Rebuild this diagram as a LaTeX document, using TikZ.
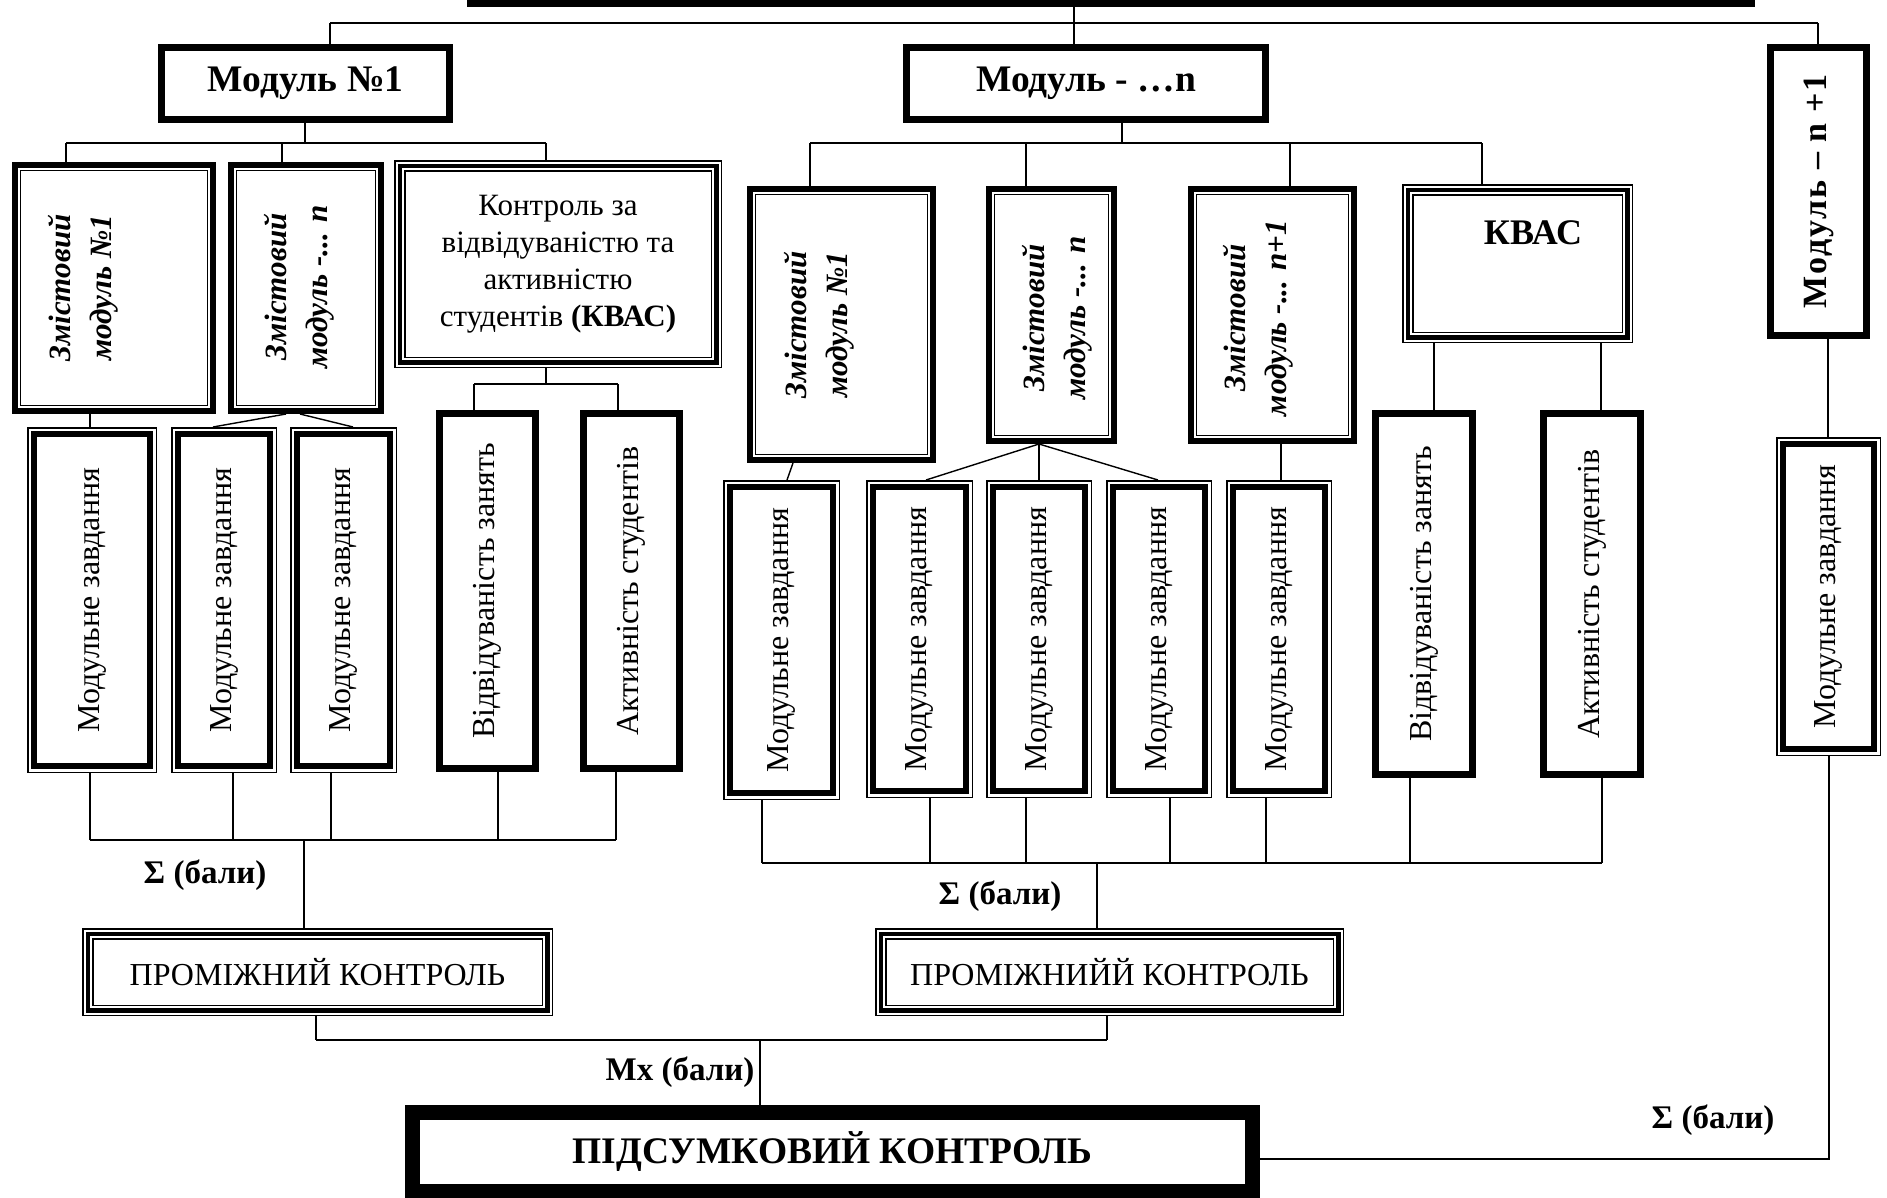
\documentclass[tikz,border=0pt]{standalone}
\usepackage{fontspec}
\setmainfont{Liberation Serif}
\newfontfamily\spacedfont[LetterSpace=6]{Liberation Serif}
\usetikzlibrary{calc}
% box node from its outer corners (image pixel coordinates)
\newcommand\bx[7]{\node[boxbase,#1,minimum width={#5-#3},minimum height={#6-#4}] (#2) at ({(#3+#5)/2},{(#4+#6)/2}) {#7};}
% one frame line, inset from the node border
\newcommand\fr[3]{\draw[line width=#3pt] ($(#1.south west)+(#2pt,#2pt)$) rectangle ($(#1.north east)-(#2pt,#2pt)$);}
\newcommand\fplain[1]{\fr{#1}{3.5}{7}}
\newcommand\fthickthin[1]{\fr{#1}{3}{6}\fr{#1}{8.7}{1.4}}
\newcommand\fthinthick[1]{\fr{#1}{0.75}{1.5}\fr{#1}{7}{6}}
\newcommand\ftriple[1]{\fr{#1}{0.75}{1.5}\fr{#1}{5.75}{4.5}\fr{#1}{10.75}{1.5}}
\newcommand\fheavy[1]{\fr{#1}{7.5}{15}}
\begin{document}
\begin{tikzpicture}[x=1pt,y=-1pt,
  boxbase/.style={rectangle,inner sep=0pt,outer sep=0pt},
  conn/.style={line width=1.4pt},
  bus/.style={line width=2pt},
  rm/.style={font=\fontsize{32}{36}\selectfont},
  bf/.style={font=\fontsize{37.5}{42}\selectfont\bfseries},
  lbl/.style={font=\fontsize{33}{38}\selectfont\bfseries},
  zm/.style={font=\fontsize{31}{41}\selectfont\bfseries\itshape,align=center,rotate=90,inner sep=0pt},
]
\useasboundingbox (0,0) rectangle (1887,1197);
\clip (0,0) rectangle (1887,1197);
\fill[white] (0,0) rectangle (1887,1197);

% ---------- boxes ----------
\bx{fill=black}{top}{467}{-13}{1755}{7}{}
\bx{bf}{m1}{158}{44}{453}{123}{Модуль №1}
\bx{bf}{mn}{903}{44}{1269}{123}{Модуль - …n}
\bx{}{mp1}{1767}{44}{1870}{339}{\rotatebox{90}{\fontsize{34}{38}\selectfont\spacedfont\bfseries Модуль – n +1}}

\bx{}{z1}{12}{162}{216}{414}{}
\bx{}{z2}{228}{162}{384}{414}{}
\bx{font=\fontsize{31}{37}\selectfont,align=center}{kv1}{394}{160}{722}{368}{Контроль за\\відвідуваністю та\\активністю\\студентів \textbf{(КВАС)}}

\bx{rm}{mz1}{27}{427}{157}{773}{\rotatebox{90}{Модульне завдання}}
\bx{rm}{mz2}{171}{427}{277}{773}{\rotatebox{90}{Модульне завдання}}
\bx{rm}{mz3}{290}{427}{397}{773}{\rotatebox{90}{Модульне завдання}}
\bx{rm}{vd1}{436}{410}{539}{772}{\rotatebox{90}{Відвідуваність занять}}
\bx{rm}{ak1}{580}{410}{683}{772}{\rotatebox{90}{Активність студентів}}

\bx{}{zn1}{747}{186}{936}{463}{}
\bx{}{zn2}{986}{186}{1117}{444}{}
\bx{}{zn3}{1188}{186}{1357}{444}{}
\bx{}{kvn}{1402}{184}{1633}{343}{}

\bx{rm}{mzn1}{723}{480}{840}{800}{\rotatebox{90}{Модульне завдання}}
\bx{rm}{mzn2}{866}{480}{973}{798}{\rotatebox{90}{Модульне завдання}}
\bx{rm}{mzn3}{986}{480}{1092}{798}{\rotatebox{90}{Модульне завдання}}
\bx{rm}{mzn4}{1106}{480}{1212}{798}{\rotatebox{90}{Модульне завдання}}
\bx{rm}{mzn5}{1226}{480}{1332}{798}{\rotatebox{90}{Модульне завдання}}
\bx{rm}{vdn}{1372}{410}{1476}{778}{\rotatebox{90}{Відвідуваність занять}}
\bx{rm}{akn}{1540}{410}{1644}{778}{\rotatebox{90}{Активність студентів}}
\bx{rm}{mzp}{1776}{437}{1881}{756}{\rotatebox{90}{Модульне завдання}}

\bx{rm}{pk1}{82}{928}{553}{1016}{ПРОМІЖНИЙ КОНТРОЛЬ}
\bx{rm}{pk2}{875}{928}{1344}{1016}{ПРОМІЖНИЙЙ КОНТРОЛЬ}
\bx{bf}{fin}{405}{1105}{1260}{1199}{ПІДСУМКОВИЙ КОНТРОЛЬ}

% ---------- frames ----------
\fplain{m1}\fplain{mn}\fplain{mp1}
\fthickthin{z1}\fthickthin{z2}\fthickthin{zn1}\fthickthin{zn2}\fthickthin{zn3}
\ftriple{kv1}\ftriple{kvn}\ftriple{pk1}\ftriple{pk2}
\fthinthick{mz1}\fthinthick{mz2}\fthinthick{mz3}
\fthinthick{mzn1}\fthinthick{mzn2}\fthinthick{mzn3}\fthinthick{mzn4}\fthinthick{mzn5}\fthinthick{mzp}
\fplain{vd1}\fplain{ak1}\fplain{vdn}\fplain{akn}
\fheavy{fin}

% ---------- texts placed inside boxes ----------
\node[zm] (z1t) at (83,288) {Змістовий\\модуль №1};
\node[zm] (z2t) at (299,287) {Змістовий\\модуль -... n};
\node[zm] (zn1t) at (819,325) {Змістовий\\модуль №1};
\node[zm] (zn2t) at (1057,318) {Змістовий\\модуль -... n};
\node[zm] (zn3t) at (1258,318) {Змістовий\\модуль -... n+1};
\node[font=\fontsize{36}{40}\selectfont\bfseries] (kvnt) at (1533,233) {КВАС};

% ---------- connectors ----------
% top level
\coordinate (b1l) at (330,23); \coordinate (b1m) at (1074,23); \coordinate (b1r) at (1818,23);
\draw[bus] (b1l) -- (b1r);
\draw[conn] (top.south -| b1m) -- (mn.north -| b1m);
\draw[conn] (b1l) -- (m1.north -| b1l);
\draw[conn] (b1r) -- (mp1.north -| b1r);

% module 1
\coordinate (b2a) at (66,143); \coordinate (b2m) at (305,143);
\coordinate (b2b) at (282,143); \coordinate (b2c) at (546,143);
\draw[bus] (b2a) -- (b2c);
\draw[conn] (m1.south -| b2m) -- (b2m);
\draw[conn] (b2a) -- (z1.north -| b2a);
\draw[conn] (b2b) -- (z2.north -| b2b);
\draw[conn] (b2c) -- (kv1.north -| b2c);

\coordinate (b3a) at (474,384); \coordinate (b3m) at (546,384); \coordinate (b3b) at (618,384);
\draw[conn] (kv1.south -| b3m) -- (b3m);
\draw[bus] (b3a) -- (b3b);
\draw[conn] (b3a) -- (vd1.north -| b3a);
\draw[conn] (b3b) -- (ak1.north -| b3b);

\coordinate (c1) at (90,420);
\draw[conn] (z1.south -| c1) -- (mz1.north -| c1);
\draw[conn] ($(z2.south)+(-20,0)$) -- ($(mz2.north)+(-11,0)$);
\draw[conn] ($(z2.south)+(-6,0)$) -- ($(mz3.north)+(9.5,0)$);

\coordinate (b4a) at (90,840); \coordinate (b4e) at (616,840); \coordinate (b4m) at (304,840);
\draw[bus] (b4a) -- (b4e);
\foreach \n/\x in {mz1/90,mz2/233,mz3/331,vd1/498,ak1/616}{
  \coordinate (t) at (\x,840); \draw[conn] (t) -- (t |- \n.south);}
\draw[conn] (b4m) -- (pk1.north -| b4m);
\node[lbl] (s1) at (205,875) {Σ (бали)};

% module n
\coordinate (b5a) at (810,143); \coordinate (b5m) at (1122,143); \coordinate (b5e) at (1482,143);
\draw[bus] (b5a) -- (b5e);
\draw[conn] (mn.south -| b5m) -- (b5m);
\foreach \n/\x in {zn1/810,zn2/1026,zn3/1290,kvn/1482}{
  \coordinate (t) at (\x,143); \draw[conn] (t) -- (t |- \n.north);}

\draw[conn] ($(zn1.south)+(-48.5,0)$) -- ($(mzn1.north)+(5.5,0)$);
\draw[conn] ($(zn2.south)+(-12.5,0)$) -- ($(mzn2.north)+(6.5,0)$);
\draw[conn] ($(zn2.south)+(-12.5,0)$) -- (mzn3.north);
\draw[conn] ($(zn2.south)+(-12.5,0)$) -- ($(mzn4.north)+(-1,0)$);
\draw[conn] ($(zn3.south)+(8.5,0)$) -- ($(mzn5.north)+(2,0)$);

\coordinate (k1) at (1434,380); \coordinate (k2) at (1601,380);
\draw[conn] (kvn.south -| k1) -- (vdn.north -| k1);
\draw[conn] (kvn.south -| k2) -- (akn.north -| k2);

\coordinate (b6a) at (762,863); \coordinate (b6e) at (1602,863); \coordinate (b6m) at (1097,863);
\draw[bus] (b6a) -- (b6e);
\foreach \n/\x in {mzn1/762,mzn2/930,mzn3/1026,mzn4/1170,mzn5/1266,vdn/1410,akn/1602}{
  \coordinate (t) at (\x,863); \draw[conn] (t) -- (t |- \n.south);}
\draw[conn] (b6m) -- (pk2.north -| b6m);
\node[lbl] (s2) at (1000,896) {Σ (бали)};

% intermediate to final
\coordinate (b7a) at (316,1040); \coordinate (b7e) at (1107,1040); \coordinate (b7m) at (760,1040);
\draw[conn] (pk1.south -| b7a) -- (b7a);
\draw[conn] (pk2.south -| b7e) -- (b7e);
\draw[bus] (b7a) -- (b7e);
\draw[conn] (b7m) -- (fin.north -| b7m);
\node[lbl] (mx) at (680,1072) {Mx (бали)};

% module n+1
\coordinate (p1) at (1828,390);
\draw[conn] (mp1.south -| p1) -- (mzp.north -| p1);
\coordinate (r) at (1829,1159);
\draw[conn] (r |- mzp.south) -- (r) -- (r -| fin.east);
\node[lbl] (s3) at (1713,1120) {Σ (бали)};
\end{tikzpicture}
\end{document}
